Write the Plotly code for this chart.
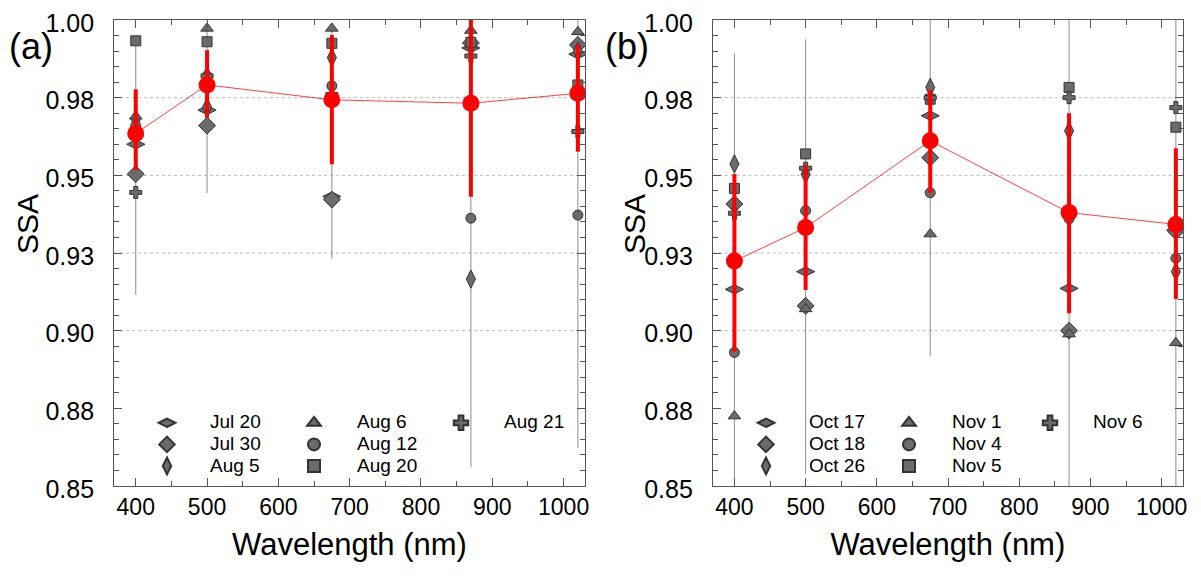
import plotly.graph_objects as go

# ---------------- data ----------------
wavelengths = [400, 500, 675, 870, 1020]

# Panel (a) - summer dates
names_a = ["Jul 20", "Jul 30", "Aug 5", "Aug 6", "Aug 12", "Aug 20", "Aug 21"]
jul20 = [0.960, 0.971, 0.9432, 0.991, 0.989]
jul30 = [0.9504, 0.966, 0.9422, 0.9926, 0.992]
aug5 = [0.968, 0.972, 0.9879, 0.9166, 0.990]
aug6 = [0.969, 0.9973, 0.9973, 0.9966, 0.9962]
aug12 = [0.966, 0.982, 0.9788, 0.9362, 0.9372]
aug20 = [0.9933, 0.993, 0.9925, 0.9928, 0.9791]
aug21 = [0.9445, 0.982, 0.976, 0.9884, 0.9641]
series_a = [jul20, jul30, aug5, aug6, aug12, aug20, aug21]

mean_a = [0.9635, 0.9791, 0.9743, 0.9732, 0.9764]
mean_a_top = [0.9777, 0.9903, 0.9952, 1.003, 0.992]
mean_a_bot = [0.9517, 0.9685, 0.9536, 0.9431, 0.9576]
range_a_top = [0.9933, 0.9973, 0.9973, 1.0, 1.0]
range_a_bot = [0.9115, 0.9443, 0.9231, 0.856, 0.8622]

# Panel (b) - autumn dates
names_b = ["Oct 17", "Oct 18", "Oct 26", "Nov 1", "Nov 4", "Nov 5", "Nov 6"]
oct17 = [0.9133, 0.919, 0.9692, 0.9136, 0.9324]
oct18 = [0.9408, 0.908, 0.9557, 0.9000, 0.932]
oct26 = [0.9537, 0.9504, 0.9783, 0.9643, 0.919]
nov1 = [0.8725, 0.907, 0.9311, 0.8989, 0.8961]
nov4 = [0.893, 0.9386, 0.9444, 0.936, 0.9233]
nov5 = [0.9458, 0.9569, 0.9745, 0.9783, 0.9655]
nov6 = [0.9378, 0.9523, 0.975, 0.975, 0.9718]
series_b = [oct17, oct18, oct26, nov1, nov4, nov5, nov6]

mean_b = [0.9224, 0.9332, 0.9611, 0.938, 0.9342]
mean_b_top = [0.9504, 0.9533, 0.9775, 0.970, 0.9587]
mean_b_bot = [0.8932, 0.9131, 0.9444, 0.9056, 0.9102]
range_b_top = [0.9893, 0.9938, 1.0, 1.0, 1.0]
range_b_bot = [0.85, 0.854, 0.8919, 0.85, 0.85]

y_tickvals = [0.85, 0.875, 0.90, 0.925, 0.95, 0.975, 1.00]
y_ticktext = ["0.85", "0.88", "0.90", "0.93", "0.95", "0.98", "1.00"]
grid_levels = [0.90, 0.925, 0.95, 0.975]
x_tickvals = [400, 500, 600, 700, 800, 900, 1000]

# ---------------- styling ----------------
symbols = ["diamond-wide", "diamond", "diamond-tall", "triangle-up", "circle", "square", "cross"]
sizes = [13, 13, 13, 11, 10, 10, 10]
legend_cols = [0, 0, 0, 1, 1, 1, 2]
FILL = "#6b6b6b"
EDGE = "#333333"
FONT = "Arial, Liberation Sans, sans-serif"

fig = go.Figure()

OFF = 8  # page body margin
W = 1201 - OFF
H = 576 - OFF
ML, MT = 114 - OFF, 20 - OFF
MR = W - (1183 - OFF)
MB = H - (486 - OFF)
PW = W - ML - MR
PH = H - MT - MB


def px_x(p):
    return (p - OFF - ML) / PW


def px_y(p):
    return (H - MB - (p - OFF)) / PH


panels = [
    dict(series=series_a, names=names_a, mean=mean_a, top=mean_a_top, bot=mean_a_bot,
         rtop=range_a_top, rbot=range_a_bot, xa="x", ya="y",
         legends=["legend", "legend2", "legend3"]),
    dict(series=series_b, names=names_b, mean=mean_b, top=mean_b_top, bot=mean_b_bot,
         rtop=range_b_top, rbot=range_b_bot, xa="x2", ya="y2",
         legends=["legend4", "legend5", "legend6"]),
]

for p in panels:
    # thin grey range lines
    fig.add_trace(go.Scatter(
        x=wavelengths, y=p["rtop"], mode="markers", xaxis=p["xa"], yaxis=p["ya"],
        marker=dict(size=1, opacity=0), showlegend=False, hoverinfo="skip",
        error_y=dict(type="data", symmetric=False,
                     array=[0] * len(wavelengths),
                     arrayminus=[t - b for t, b in zip(p["rtop"], p["rbot"])],
                     color="#8c8c8c", thickness=1, width=0),
    ))
    for i, (vals, nm) in enumerate(zip(p["series"], p["names"])):
        fig.add_trace(go.Scatter(
            x=wavelengths, y=vals, mode="markers", xaxis=p["xa"], yaxis=p["ya"],
            name='<span style="font-size:19px">' + nm + '</span>',
            legend=p["legends"][legend_cols[i]],
            marker=dict(symbol=symbols[i], size=sizes[i], color=FILL,
                        line=dict(color=EDGE, width=1)),
        ))
    fig.add_trace(go.Scatter(
        x=wavelengths, y=p["mean"], mode="lines+markers", xaxis=p["xa"], yaxis=p["ya"],
        showlegend=False,
        line=dict(color="rgba(255,0,0,0.75)", width=1),
        marker=dict(symbol="circle", size=17, color="#ff0000"),
        error_y=dict(type="data", symmetric=False,
                     array=[t - m for t, m in zip(p["top"], p["mean"])],
                     arrayminus=[m - b for m, b in zip(p["mean"], p["bot"])],
                     color="#ff0000", thickness=4, width=0),
    ))

dom_a = [0, px_x(585)]
dom_b = [px_x(712.7), 1]

axis_common = dict(
    showline=True, linecolor="#555555", linewidth=1, mirror="ticks",
    ticks="inside", ticklen=8, tickcolor="#555555", showgrid=False, zeroline=False,
    automargin=False, ticklabeloverflow="allow",
)
xaxis_common = dict(axis_common, range=[369.5, 1030], tickvals=x_tickvals,
                    tickfont=dict(family=FONT, size=23, color="black"),
                    minor=dict(dtick=50, tick0=0, ticks="inside", ticklen=5, tickcolor="#555555"),
                    title=dict(text="Wavelength (nm)", font=dict(family=FONT, size=31, color="black"),
                               standoff=14))
yaxis_common = dict(axis_common, range=[0.85, 1.0], tickvals=y_tickvals,
                    ticktext=[t + "\u00a0\u00a0" for t in y_ticktext],
                    tickfont=dict(family=FONT, size=25, color="black"),
                    ticklabelshift=3,
                    minor=dict(dtick=0.005, tick0=0, ticks="inside", ticklen=5, tickcolor="#555555"))

fig.update_layout(
    xaxis=dict(xaxis_common, domain=dom_a, anchor="y"),
    yaxis=dict(yaxis_common, domain=[0, 1], anchor="x"),
    xaxis2=dict(xaxis_common, domain=dom_b, anchor="y2"),
    yaxis2=dict(yaxis_common, domain=[0, 1], anchor="x2"),
)

# grid lines (only the inner levels)
for xr, yr in [("x domain", "y"), ("x2 domain", "y2")]:
    for g in grid_levels:
        fig.add_shape(type="line", xref=xr, yref=yr, x0=0, x1=1, y0=g, y1=g,
                      line=dict(color="#b8b8b8", width=1, dash="dot"), layer="below")

# legends (one per column)
leg_y = px_y(407)
leg_xs = [px_x(166 - 42), px_x(313 - 42), px_x(460 - 42),
          px_x(765 - 42), px_x(908 - 42), px_x(1049 - 42)]
leg_names = ["legend", "legend2", "legend3", "legend4", "legend5", "legend6"]
legend_layout = {}
for ln, lx in zip(leg_names, leg_xs):
    legend_layout[ln] = dict(x=lx, y=leg_y, xanchor="left", yanchor="top",
                             bgcolor="rgba(0,0,0,0)", borderwidth=0,
                             font=dict(family=FONT, size=14.3, color="black"),
                             itemwidth=76, tracegroupgap=0, orientation="v",
                             itemsizing="constant")
fig.update_layout(**legend_layout)

# panel labels and y titles
for lbl, cx in [("(a)", 31), ("(b)", 627)]:
    fig.add_annotation(text=lbl, xref="paper", yref="paper", x=px_x(cx), y=px_y(46),
                       xanchor="center", yanchor="middle",
                       showarrow=False, font=dict(family=FONT, size=36, color="black"))
for cx in [28, 635]:
    fig.add_annotation(text="SSA", xref="paper", yref="paper", x=px_x(cx), y=px_y(224),
                       xanchor="center", yanchor="middle",
                       showarrow=False, textangle=-90,
                       font=dict(family=FONT, size=30, color="black"))

fig.update_layout(
    width=W, height=H,
    margin=dict(l=ML, r=MR, t=MT, b=MB, autoexpand=False),
    paper_bgcolor="white", plot_bgcolor="white",
    font=dict(family=FONT, color="black"),
)

fig.write_html("out.html")
